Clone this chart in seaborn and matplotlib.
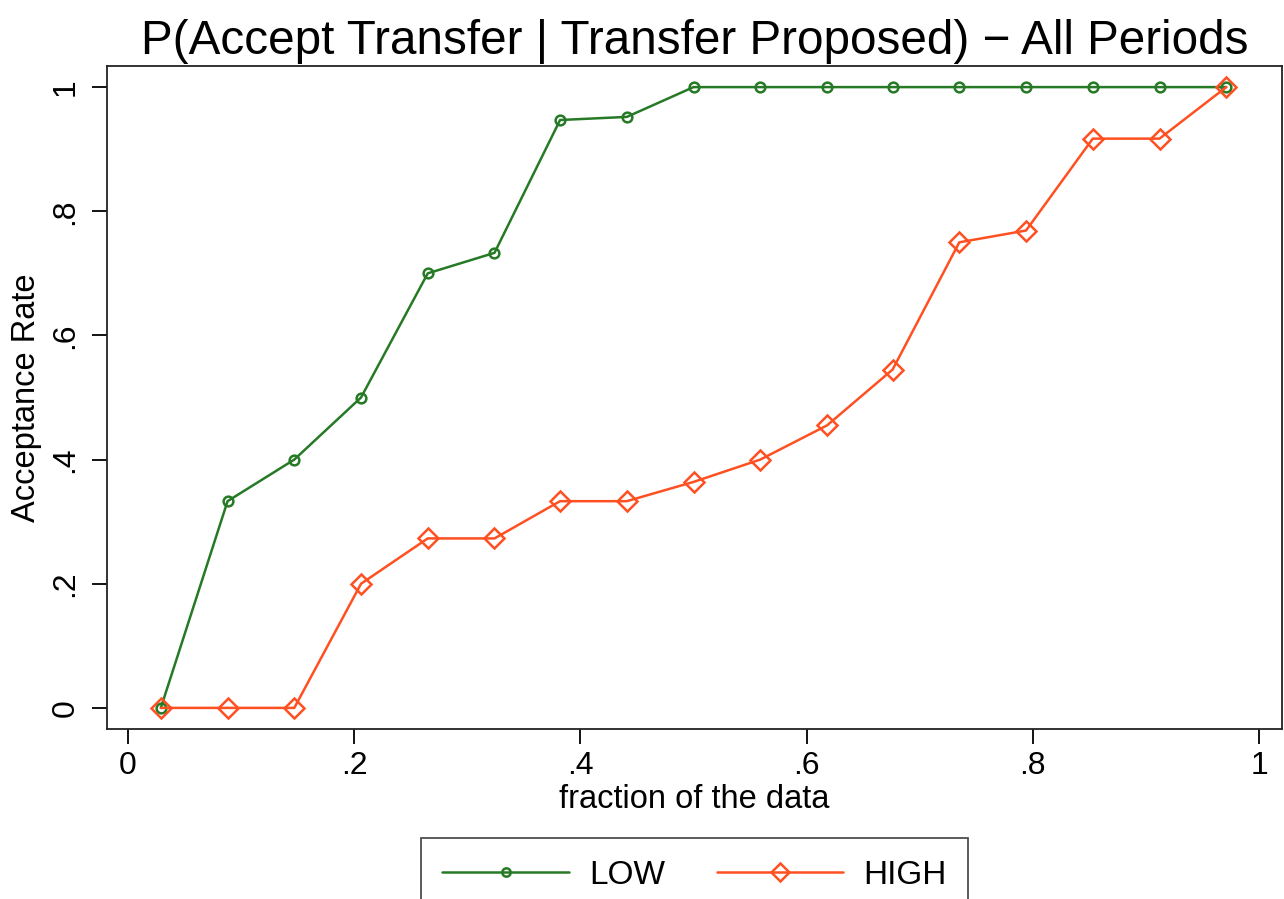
import numpy as np
import pandas as pd
import matplotlib
matplotlib.use("Agg")
import matplotlib.pyplot as plt
import seaborn as sns
from matplotlib.lines import Line2D

fraction = [0.029, 0.088, 0.147, 0.206, 0.265, 0.324, 0.382, 0.441, 0.500,
            0.559, 0.618, 0.676, 0.735, 0.794, 0.853, 0.912, 0.971]
low_rate = [0.0, 0.333, 0.4, 0.5, 0.7, 0.733, 0.947, 0.952, 1.0,
            1.0, 1.0, 1.0, 1.0, 1.0, 1.0, 1.0, 1.0]
high_rate = [0.0, 0.0, 0.0, 0.2, 0.273, 0.273, 0.333, 0.333, 0.364,
             0.4, 0.455, 0.545, 0.75, 0.769, 0.917, 0.917, 1.0]
groups = ["LOW", "HIGH"]
x_ticks = [0, 0.2, 0.4, 0.6, 0.8, 1.0]
x_ticklabels = ["0", ".2", ".4", ".6", ".8", "1"]
y_ticks = [0, 0.2, 0.4, 0.6, 0.8, 1.0]
y_ticklabels = ["0", ".2", ".4", ".6", ".8", "1"]

df = pd.DataFrame({
    "fraction": fraction * 2,
    "rate": low_rate + high_rate,
    "group": [groups[0]] * len(fraction) + [groups[1]] * len(fraction),
})

sns.set_theme(style="white")
plt.rcParams['font.family'] = ['Liberation Sans', 'DejaVu Sans']
plt.rcParams['text.color'] = 'black'
plt.rcParams['axes.labelcolor'] = 'black'
plt.rcParams['xtick.color'] = 'black'
plt.rcParams['ytick.color'] = 'black'

fig = plt.figure(figsize=(12.84, 8.99), dpi=100)
ax = fig.add_axes([107/1284, 1 - 729/899, (1282-107)/1284, (729-66)/899])

palette = {"LOW": "#267a26", "HIGH": "#ff5022"}
marker_map = {"LOW": "o", "HIGH": "D"}
marker_size = {"LOW": 7, "HIGH": 10}
sns.lineplot(data=df, x="fraction", y="rate", hue="group", style="group",
             markers=marker_map, dashes=False,
             palette=palette, ax=ax, linewidth=1.8, legend=False)

for line, g in zip(ax.lines, groups):
    c = line.get_color()
    line.set_markerfacecolor("none")
    line.set_markeredgecolor(c)
    line.set_markeredgewidth(1.8)
    line.set_markersize(marker_size[g])

ax.set_xlim(-0.0186, 1.0203)
ax.set_ylim(-0.034, 1.034)
ax.set_xticks(x_ticks)
ax.set_xticklabels(x_ticklabels, fontsize=23)
ax.set_yticks(y_ticks)
ax.set_yticklabels(y_ticklabels, fontsize=23, rotation=90, va="center")
ax.tick_params(axis="both", direction="out", length=11, width=1.3,
               color="black", left=True, bottom=True, pad=5)
ax.tick_params(axis="y", pad=8)
for s in ax.spines.values():
    s.set_color("#222222")
    s.set_linewidth(1.3)

ax.set_xlabel("fraction of the data", fontsize=23.5, labelpad=2)
ax.set_ylabel("Acceptance Rate", fontsize=23.5, labelpad=6)
ax.set_title("P(Accept Transfer | Transfer Proposed) \u2212 All Periods",
             fontsize=34.3, pad=9)

handles = [Line2D([], [], color=palette[g], marker=marker_map[g],
                  markerfacecolor="none", markeredgecolor=palette[g],
                  markeredgewidth=1.8, markersize=marker_size[g] - 1,
                  linewidth=1.8)
           for g in groups]
leg = fig.legend(handles, groups, loc="upper center",
                 bbox_to_anchor=(694.5/1284, 1 - 838/899), ncol=2,
                 fontsize=24, frameon=True, fancybox=False, handlelength=3.8,
                 columnspacing=1.55, handletextpad=0.6, borderpad=0.65,
                 borderaxespad=0)
leg.get_frame().set_edgecolor("#222222")
leg.get_frame().set_linewidth(1.3)

fig.savefig("out.png", dpi=100, facecolor="white")
